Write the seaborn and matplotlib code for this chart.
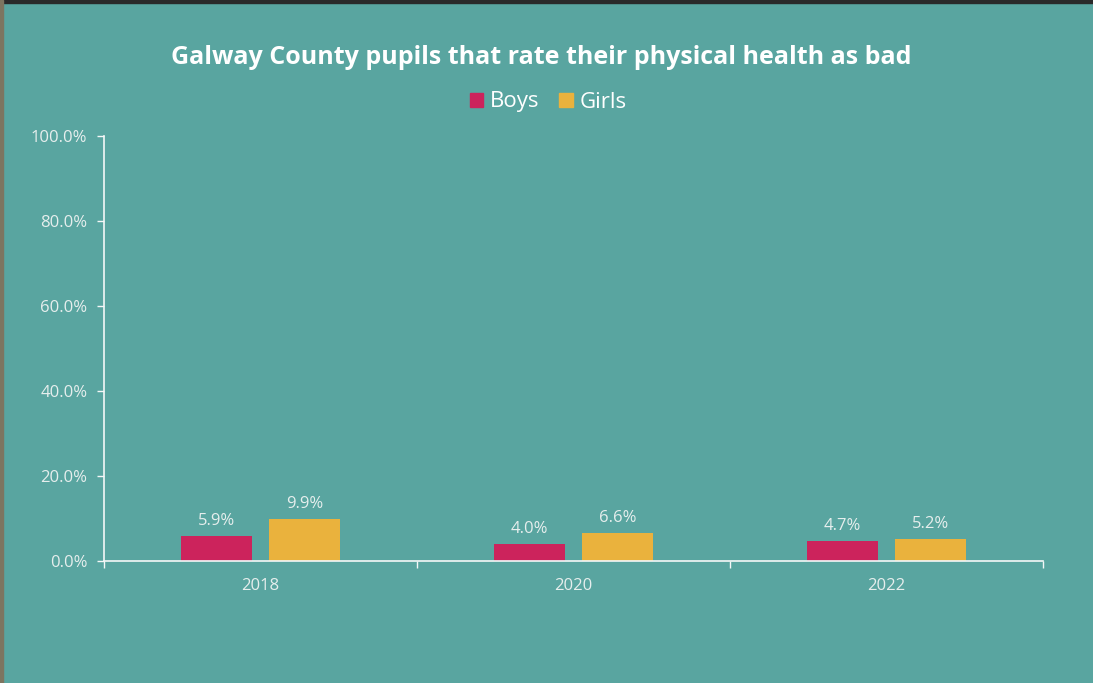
import matplotlib
matplotlib.use("Agg")
import matplotlib.pyplot as plt
import matplotlib.patches as mpatches
from matplotlib.ticker import FixedLocator, PercentFormatter
import seaborn as sns
import pandas as pd

years = ["2018", "2020", "2022"]
boys = [5.9, 4.0, 4.7]
girls = [9.9, 6.6, 5.2]
series_names = ["Boys", "Girls"]
y_ticks = [0, 20, 40, 60, 80, 100]
title = "Galway County pupils that rate their physical health as bad"

BG = "#59A5A0"
TXT = "#E6EEED"
colors = {"Boys": "#CC235C", "Girls": "#EAB23D"}

df = pd.DataFrame({
    "Year": years * 2,
    "Gender": ["Boys"] * len(years) + ["Girls"] * len(years),
    "Value": boys + girls,
})

sns.set_theme(style="white")
plt.rcParams["font.family"] = ["Open Sans", "DejaVu Sans"]

fig = plt.figure(figsize=(10.93, 6.83), dpi=100)
fig.patch.set_facecolor(BG)
ax = fig.add_axes([104 / 1093, 1 - 561 / 683, 939 / 1093, 425 / 683])
ax.set_facecolor(BG)

sns.barplot(data=df, x="Year", y="Value", hue="Gender", order=years,
            hue_order=series_names, palette=colors, width=0.5625, gap=0.2,
            ax=ax, legend=False, saturation=1, linewidth=0, edgecolor="none")

for cont in ax.containers:
    ax.bar_label(cont, fmt="%.1f%%", padding=5, color=TXT, fontsize=12)

ax.set_xlim(-0.5, 2.5)
ax.set_ylim(0, 100)
ax.yaxis.set_major_locator(FixedLocator(y_ticks))
ax.yaxis.set_major_formatter(PercentFormatter(decimals=1))
ax.set_xlabel("")
ax.set_ylabel("")
for s in ["top", "right"]:
    ax.spines[s].set_visible(False)
for s in ["left", "bottom"]:
    ax.spines[s].set_color("#F4F7F7")
    ax.spines[s].set_linewidth(1.2)
ax.tick_params(axis="y", colors="#F4F7F7", labelcolor=TXT, labelsize=12,
               length=5, width=1, direction="out", left=True, pad=7)
ax.tick_params(axis="x", which="major", length=0, labelcolor=TXT, labelsize=12, pad=12)
ax.xaxis.set_minor_locator(FixedLocator([-0.5, 0.5, 1.5, 2.5]))
ax.tick_params(axis="x", which="minor", length=5, width=1, colors="#F4F7F7",
               direction="out", bottom=True)

fig.text(541 / 1093, 1 - 57 / 683, title, ha="center", va="center",
         color="white", fontsize=18, fontweight="bold")

handles = [mpatches.Patch(color=colors[n], label=n) for n in series_names]
leg = fig.legend(handles=handles, loc="center", bbox_to_anchor=(548 / 1093, 1 - 102 / 683),
                 ncol=2, frameon=False, fontsize=16, handlelength=0.6, handleheight=0.6,
                 handletextpad=0.3, columnspacing=0.9)
for t in leg.get_texts():
    t.set_color("white")

# screenshot border strips
fig.patches.append(mpatches.Rectangle((0, 1 - 3 / 683), 1, 3 / 683, transform=fig.transFigure,
                                      color="#2A2A2A", zorder=10))
fig.patches.append(mpatches.Rectangle((0, 0), 3 / 1093, 1, transform=fig.transFigure,
                                      color="#7D7560", zorder=10))

fig.savefig("out.png", dpi=100, facecolor=BG)
